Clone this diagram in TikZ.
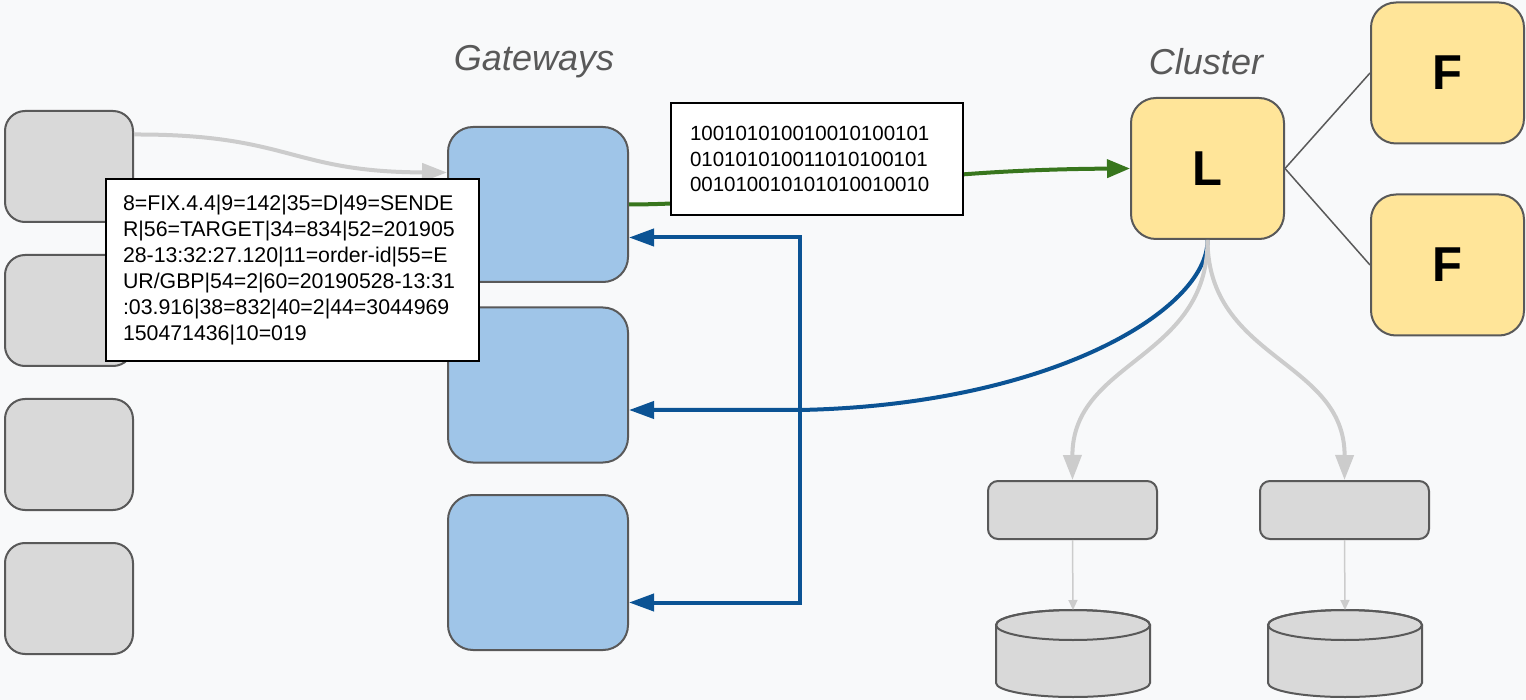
\documentclass[tikz,border=0pt]{standalone}
\usepackage{fontspec}
\setmainfont{Liberation Sans}
\usetikzlibrary{arrows.meta, positioning, calc}
\definecolor{bggray}{HTML}{F8F9FA}
\definecolor{boxgray}{HTML}{D9D9D9}
\definecolor{edgegray}{HTML}{595959}
\definecolor{labelgray}{HTML}{595959}
\definecolor{gwblue}{HTML}{9FC5E8}
\definecolor{nodeyellow}{HTML}{FFE599}
\definecolor{linkgreen}{HTML}{38761D}
\definecolor{linkblue}{HTML}{0B5394}
\definecolor{flowgray}{HTML}{CCCCCC}

\tikzset{
  client/.style={draw=edgegray, fill=boxgray, line width=2pt, rounded corners=20pt,
    minimum width=128pt, minimum height=111pt},
  gateway/.style={draw=edgegray, fill=gwblue, line width=2pt, rounded corners=25pt,
    minimum width=180pt, minimum height=155pt},
  member/.style={draw=edgegray, fill=nodeyellow, line width=2pt, rounded corners=25pt,
    minimum width=153pt, minimum height=141pt, font=\fontsize{49}{50}\selectfont\bfseries},
  worker/.style={draw=edgegray, fill=boxgray, line width=2pt, rounded corners=10pt,
    minimum width=169pt, minimum height=58pt},
  msgbox/.style={draw=black, fill=white, line width=2pt, align=left,
    font=\fontsize{20.5}{25.5}\selectfont},
  title/.style={font=\fontsize{36}{40}\selectfont\itshape, text=labelgray},
  flow/.style={draw=flowgray, line width=4pt, -{Triangle[length=25pt,width=18pt]}},
  thinflow/.style={draw=flowgray, line width=1.5pt, -{Triangle[length=10pt,width=9pt]}},
  datalink/.style={draw=linkgreen, line width=4pt, -{Triangle[length=23pt,width=18pt]}},
  replylink/.style={draw=linkblue, line width=4pt},
  peer/.style={draw=edgegray, line width=1.5pt}
}

\begin{document}
\begin{tikzpicture}[x=1pt, y=-1pt]

  % background and page size
  \fill[bggray] (0,0) rectangle (1526,700);
  \useasboundingbox (0,0) rectangle (1526,700);

  % titles
  \node[title] (gwtitle) at (534,62) {Gateways};
  \node[title] (cltitle) at (1206,62) {Cluster};

  % clients
  \node[client] (src1) at (69,166.5) {};
  \node[client, below=31pt of src1] (src2) {};
  \node[client, below=31pt of src2] (src3) {};
  \node[client, below=31pt of src3] (src4) {};

  % gateways
  \node[gateway] (G1) at (538,204.5) {};
  \node[gateway] (G2) at (538,385) {};
  \node[gateway] (G3) at (538,572.5) {};

  % cluster
  \node[member] (L) at (1207.5,168.5) {L};
  \node[member] (F1) at (1447.5,73) {F};
  \node[member] (F2) at (1447.5,265) {F};
  \draw[peer] (L.east) -- (F1.west);
  \draw[peer] (L.east) -- (F2.west);

  % workers and stores
  \node[worker] (proc1) at (1072.5,510) {};
  \node[worker] (proc2) at (1344.5,510) {};
  \foreach \cx [count=\i] in {1073,1345}{
    \filldraw[fill=boxgray, draw=edgegray, line width=2pt]
      (\cx-77,625) -- (\cx-77,683)
      arc[start angle=180, end angle=360, x radius=77pt, y radius=14pt]
      -- (\cx+77,625)
      arc[start angle=0, end angle=180, x radius=77pt, y radius=15pt] -- cycle;
    \draw[edgegray, line width=2pt] (\cx,625) ellipse[x radius=77pt, y radius=15pt];
    \coordinate (db\i) at (\cx,610);
  }

  % connectors
  \draw[flow] ([yshift=32pt]src1.east) .. controls (290,134) and (290,172) .. ([yshift=32pt]G1.west);
  \draw[datalink] (G1.east) .. controls (780,204) and (880,170) .. (L.west);
  \coordinate (split) at (800,410);
  \draw[replylink, -{Triangle[length=25pt,width=17pt]}] (L.south)
    .. controls (1208,310) and (1050,405) .. (split) -- ([yshift=-25pt]G2.east);
  \draw[replylink, {Triangle[length=25pt,width=17pt]}-{Triangle[length=25pt,width=17pt]}]
    ([yshift=-33pt]G1.east) -| (split) |- ([yshift=-30pt]G3.east);
  \draw[flow] (L.south) .. controls (1208,360) and (1072,360) .. (proc1.north);
  \draw[flow] (L.south) .. controls (1208,360) and (1345,360) .. (proc2.north);
  \draw[thinflow] (proc1.south) -- (db1);
  \draw[thinflow] (proc2.south) -- (db2);

  % messages
  \node[msgbox, text width=254pt, inner xsep=19pt, minimum height=112pt] (binmsg) at (817,159)
    {100101010010010100101\\010101010011010100101\\001010010101010010010};
  \node[msgbox, font=\fontsize{21.3}{26}\selectfont, text width=339pt, inner xsep=17pt,
    minimum height=182pt] (fixmsg) at (292.5,270)
    {8=FIX.4.4|9=142|35=D|49=SENDE\\R|56=TARGET|34=834|52=201905\\28-13:32:27.120|11=order-id|55=E\\UR/GBP|54=2|60=20190528-13:31\\:03.916|38=832|40=2|44=3044969\\150471436|10=019};

\end{tikzpicture}
\end{document}
